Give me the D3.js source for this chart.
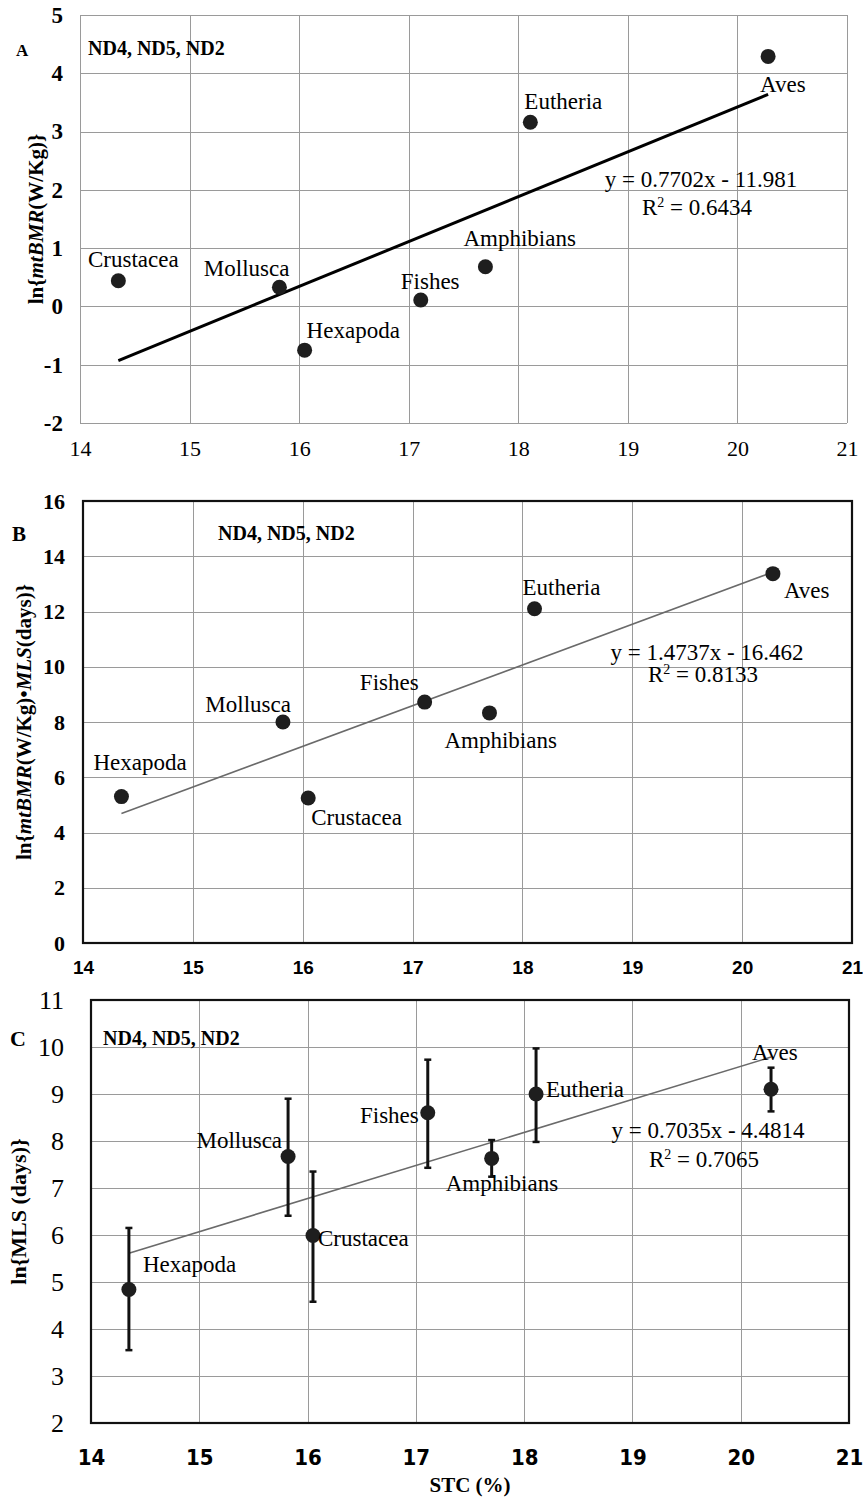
<!DOCTYPE html>
<html>
<head>
<meta charset="utf-8">
<script src="https://cdn.jsdelivr.net/npm/d3@7"></script>
<style>
  body { margin: 0; background: #fff; }
  svg { display: block; font-family: "Liberation Serif", "Times New Roman", serif; }
  .grid line { stroke: #9a9a9a; stroke-width: 1; shape-rendering: crispEdges; }
  .grid path { display: none; }
  .dot { fill: #1e1e1e; }
  .taxon { font-size: 23px; fill: #000; }
  .eq { font-size: 23px; fill: #000; text-anchor: middle; }
</style>
</head>
<body>
<div id="chart"></div>
<script>
// ---- data ----
var xTicks = [14, 15, 16, 17, 18, 19, 20, 21];

var stc = [14.35, 15.82, 16.05, 17.11, 17.70, 18.11, 20.28];
var taxaA = ["Crustacea", "Mollusca", "Hexapoda", "Fishes", "Amphibians", "Eutheria", "Aves"];
var taxaBC = ["Hexapoda", "Mollusca", "Crustacea", "Fishes", "Amphibians", "Eutheria", "Aves"];

var bmrA = [0.44, 0.33, -0.75, 0.11, 0.68, 3.16, 4.29];
var yTicksA = [-2, -1, 0, 1, 2, 3, 4, 5];

var bmrMlsB = [5.30, 8.00, 5.25, 8.72, 8.33, 12.10, 13.37];
var yTicksB = [0, 2, 4, 6, 8, 10, 12, 14, 16];

var mlsC = [4.84, 7.67, 5.99, 8.60, 7.63, 9.00, 9.10];
var mlsLowC = [3.55, 6.41, 4.58, 7.43, 7.24, 7.98, 8.63];
var mlsHighC = [6.15, 8.90, 7.35, 9.73, 8.02, 9.97, 9.56];
var yTicksC = [2, 3, 4, 5, 6, 7, 8, 9, 10, 11];

var slopes = [0.7702, 1.4737, 0.7035];
var intercepts = [-11.981, -16.462, -4.4814];
var rSquared = ["0.6434", "0.8133", "0.7065"];
var eqText = ["y = 0.7702x - 11.981", "y = 1.4737x - 16.462", "y = 0.7035x - 4.4814"];

// ---- layout ----
var W = 863, H = 1502;
var svg = d3.select("#chart").append("svg")
    .attr("width", W)
    .attr("height", H);
svg.append("rect").attr("width", W).attr("height", H).attr("fill", "#fff");

var serif = "'Liberation Serif', 'Times New Roman', serif";

var panels = [
  {
    letter: "A", letterPos: [16, 56], letterSize: 17,
    box: {left: 80, right: 847, top: 15, bottom: 423},
    yTicks: yTicksA, ys: bmrA, names: taxaA,
    yLab: {family: serif, size: 23, weight: "bold"}, yPad: 17,
    xLab: {family: serif, size: 22, weight: "normal"}, xPad: 33,
    frame: false, trendWidth: 3, trendColor: "#000",
    title: [["ln{", ""], ["mtBMR", "italic"], ["(W/Kg)}", ""]], titleX: 36, titleSize: 21,
    nd: [88, 55], eq: [701, 187, 215],
    lab: [["middle", 15, -14], ["end", 10, -11], ["start", 2, -12], ["start", -20, -11],
          ["start", -22, -21], ["start", -6, -13], ["start", -8, 36]]
  },
  {
    letter: "B", letterPos: [12, 541], letterSize: 21,
    box: {left: 83, right: 852, top: 501, bottom: 943},
    yTicks: yTicksB, ys: bmrMlsB, names: taxaBC,
    yLab: {family: serif, size: 22, weight: "bold"}, yPad: 18,
    xLab: {family: "'Liberation Sans', Arial, sans-serif", size: 19, weight: "bold"}, xPad: 31,
    frame: true, trendWidth: 1.6, trendColor: "#6a6a6a",
    title: [["ln{", ""], ["mtBMR", "italic"], ["(W/Kg)•", ""], ["MLS", "italic"], ["(days)}", ""]], titleX: 24, titleSize: 21,
    nd: [218, 540], eq: [707, 660, 682],
    lab: [["start", -28, -27], ["end", 8, -10], ["start", 3, 27], ["end", -6, -12],
          ["start", -45, 35], ["start", -12, -14], ["start", 11, 24]]
  },
  {
    letter: "C", letterPos: [10, 1046], letterSize: 22,
    box: {left: 91, right: 849, top: 1000, bottom: 1423},
    yTicks: yTicksC, ys: mlsC, names: taxaBC, low: mlsLowC, high: mlsHighC,
    yLab: {family: serif, size: 26, weight: "normal"}, yPad: 27,
    xLab: {family: "'DejaVu Sans Condensed', 'DejaVu Sans', sans-serif", size: 22, weight: "bold", stretch: "condensed"}, xPad: 42,
    frame: true, trendWidth: 1.6, trendColor: "#6a6a6a",
    title: [["ln{MLS (days)}", ""]], titleX: 18, titleSize: 22,
    nd: [103, 1045], eq: [708, 1138, 1167],
    lab: [["start", 14, -18], ["end", -6, -9], ["start", 5, 11], ["end", -9, 10],
          ["start", -46, 33], ["start", 10, 3], ["start", -19, -29]]
  }
];

function styleTicks(sel, f) {
  sel.selectAll(".tick text")
      .attr("fill", "#000")
      .attr("font-family", f.family)
      .attr("font-size", f.size)
      .attr("font-weight", f.weight)
      .style("font-stretch", f.stretch || null);
}

panels.forEach(function(p, k) {
  var b = p.box;
  var x = d3.scaleLinear().domain([14, 21]).range([b.left, b.right]);
  var y = d3.scaleLinear()
      .domain([p.yTicks[0], p.yTicks[p.yTicks.length - 1]])
      .range([b.bottom, b.top]);
  var g = svg.append("g");

  // gridlines + tick labels via axes (plain hyphen for negatives)
  var gy = g.append("g").attr("class", "grid")
      .attr("transform", "translate(" + b.left + ",0)")
      .call(d3.axisLeft(y).tickValues(p.yTicks).tickFormat(function(d) { return String(d); })
            .tickSize(-(b.right - b.left)).tickPadding(p.yPad));
  styleTicks(gy, p.yLab);

  var gx = g.append("g").attr("class", "grid")
      .attr("transform", "translate(0," + b.bottom + ")")
      .call(d3.axisBottom(x).tickValues(xTicks).tickFormat(function(d) { return String(d); })
            .tickSize(-(b.bottom - b.top)).tickPadding(p.xPad));
  styleTicks(gx, p.xLab);
  gx.selectAll(".tick text").attr("dy", "0");

  if (p.frame) {
    g.append("rect")
        .attr("x", b.left).attr("y", b.top)
        .attr("width", b.right - b.left).attr("height", b.bottom - b.top)
        .attr("fill", "none").attr("stroke", "#111").attr("stroke-width", 2.2);
  }

  // trend line
  var ends = d3.extent(stc);
  var line = d3.line()
      .x(function(d) { return x(d); })
      .y(function(d) { return y(slopes[k] * d + intercepts[k]); });
  g.append("path").datum(ends)
      .attr("d", line)
      .attr("fill", "none")
      .attr("stroke", p.trendColor)
      .attr("stroke-width", p.trendWidth);

  // error bars (panel C)
  if (p.low) {
    var eb = g.selectAll(".err").data(stc).enter().append("g").attr("class", "err");
    eb.append("line")
        .attr("x1", function(d) { return x(d); }).attr("x2", function(d) { return x(d); })
        .attr("y1", function(d, i) { return y(p.low[i]); })
        .attr("y2", function(d, i) { return y(p.high[i]); })
        .attr("stroke", "#111").attr("stroke-width", 3);
    [p.low, p.high].forEach(function(arr) {
      eb.append("line")
          .attr("x1", function(d) { return x(d) - 3.5; }).attr("x2", function(d) { return x(d) + 3.5; })
          .attr("y1", function(d, i) { return y(arr[i]); })
          .attr("y2", function(d, i) { return y(arr[i]); })
          .attr("stroke", "#111").attr("stroke-width", 2.5);
    });
  }

  // points
  g.selectAll(".dot").data(stc).enter().append("circle")
      .attr("class", "dot")
      .attr("cx", function(d) { return x(d); })
      .attr("cy", function(d, i) { return y(p.ys[i]); })
      .attr("r", 7.5);

  // taxon labels
  g.selectAll(".taxon").data(stc).enter().append("text")
      .attr("class", "taxon")
      .attr("x", function(d, i) { return x(d) + p.lab[i][1]; })
      .attr("y", function(d, i) { return y(p.ys[i]) + p.lab[i][2]; })
      .attr("text-anchor", function(d, i) { return p.lab[i][0]; })
      .text(function(d, i) { return p.names[i]; });

  // regression equation
  g.append("text").attr("class", "eq").attr("x", p.eq[0]).attr("y", p.eq[1]).text(eqText[k]);
  var r2 = g.append("text").attr("class", "eq").attr("x", p.eq[0] - 4).attr("y", p.eq[2]);
  r2.append("tspan").text("R");
  r2.append("tspan").attr("dy", -8).attr("font-size", 14).text("2");
  r2.append("tspan").attr("dy", 8).text(" = " + rSquared[k]);

  // gene set label
  g.append("text").attr("x", p.nd[0]).attr("y", p.nd[1])
      .attr("font-weight", "bold").attr("font-size", 20)
      .text("ND4, ND5, ND2");

  // panel letter
  g.append("text").attr("x", p.letterPos[0]).attr("y", p.letterPos[1])
      .attr("font-weight", "bold").attr("font-size", p.letterSize)
      .text(p.letter);

  // y title
  var t = g.append("text")
      .attr("transform", "translate(" + p.titleX + "," + ((b.top + b.bottom) / 2) + ") rotate(-90)")
      .attr("text-anchor", "middle")
      .attr("dy", "0.35em")
      .attr("font-weight", "bold")
      .attr("font-size", p.titleSize);
  p.title.forEach(function(part) {
    t.append("tspan").attr("font-style", part[1] || null).text(part[0]);
  });
});

// x title (bottom panel only)
svg.append("text")
    .attr("x", 470).attr("y", 1492)
    .attr("text-anchor", "middle")
    .attr("font-weight", "bold").attr("font-size", 21)
    .text("STC (%)");
</script>
</body>
</html>
